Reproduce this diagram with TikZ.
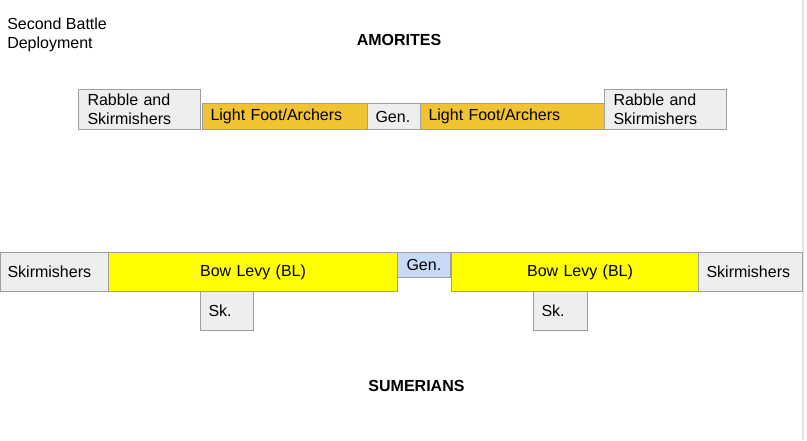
\documentclass[tikz,border=0pt]{standalone}
\usepackage{fontspec}
\setmainfont{Liberation Sans}
\definecolor{greybox}{HTML}{EEEEEE}
\definecolor{orangebox}{HTML}{F1C232}
\definecolor{yellowbox}{HTML}{FFFF00}
\definecolor{bluebox}{HTML}{C9DAF8}
\definecolor{linegray}{HTML}{9E9E9E}
\definecolor{edgegray}{HTML}{E4E4E4}
\newcommand{\fs}{\fontsize{12pt}{14.25pt}\selectfont}
\begin{document}
\begin{tikzpicture}[x=0.75pt,y=-0.75pt,
  unit/.style={draw=linegray, line width=0.8pt, anchor=north west, inner ysep=0pt, font=\fs},
  lunit/.style={unit, align=left},
  cunit/.style={unit, align=center, inner xsep=0pt},
  label/.style={font=\fs, inner sep=0pt},
  title/.style={font=\fs\bfseries, inner sep=0pt}]
\useasboundingbox[fill=white] (0,0) rectangle (807,440);
\draw[draw=edgegray, line width=1.2pt] (803,0) -- (803,440);
% titles
\node[label, anchor=west, align=left] (caption) at (7,34.5) {Second Battle\\Deployment};
\node[title] (amorites) at (399,40) {AMORITES};
\node[title] (sumerians) at (416.5,386) {SUMERIANS};
% Amorites line
\node[lunit, fill=greybox, inner xsep=6.75pt, text width=78pt, minimum height=30pt] (rabL) at (78,89) {Rabble and\\Skirmishers};
\node[lunit, fill=orangebox, inner xsep=6pt, text width=111.75pt, minimum height=19.5pt] (lfL) at (202,103) {\raisebox{-1pt}{Light Foot/Archers}};
\node[lunit, fill=greybox, inner xsep=6pt, text width=27.75pt, minimum height=19.5pt] (genA) at (367,103) {\raisebox{-1pt}{Gen.}};
\node[lunit, fill=orangebox, inner xsep=6pt, text width=126pt, minimum height=19.5pt] (lfR) at (420,103) {\raisebox{-1pt}{Light Foot/Archers}};
\node[lunit, fill=greybox, inner xsep=6.75pt, text width=78pt, minimum height=30pt] (rabR) at (604,89) {Rabble and\\Skirmishers};
% Sumerian line
\node[lunit, fill=greybox, inner xsep=5.25pt, text width=70.5pt, minimum height=29.25pt] (skL) at (0,252) {Skirmishers};
\node[cunit, fill=yellowbox, text width=216.75pt, minimum height=29.25pt] (blL) at (108,252) {Bow Levy (BL)\hspace*{3.75pt}};
\node[lunit, fill=bluebox, inner xsep=6.75pt, text width=26.5pt, minimum height=18.75pt] (genS) at (397,252) {Gen.};
\node[cunit, fill=yellowbox, text width=186pt, minimum height=29.25pt] (blR) at (450.5,252) {\hspace*{7.5pt}Bow Levy (BL)};
\node[lunit, fill=greybox, inner xsep=6pt, text width=66pt, minimum height=29.25pt] (skR) at (698,252) {Skirmishers};
\node[lunit, fill=greybox, inner xsep=6pt, text width=27.75pt, minimum height=29.25pt] (skSL) at (200,291) {Sk.};
\node[lunit, fill=greybox, inner xsep=6pt, text width=28.5pt, minimum height=29.25pt] (skSR) at (533,291) {Sk.};
\end{tikzpicture}
\end{document}
